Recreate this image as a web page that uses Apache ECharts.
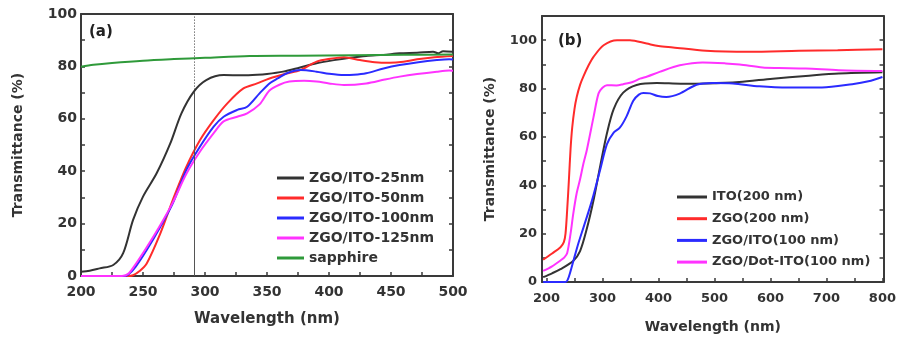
<!DOCTYPE html>
<html><head><meta charset="utf-8">
<script src="https://cdn.jsdelivr.net/npm/echarts@6/dist/echarts.min.js"></script>
<style>html,body{margin:0;padding:0;background:#fff}#c{width:899px;height:341px}</style>
</head><body><div id="c"></div><script>
// ---------- Panel (a) ----------
const a25_nm = [200, 207, 215, 226, 234, 242, 250, 261, 272, 281, 291, 301, 315, 330, 342, 350, 363, 376, 390, 404, 417, 430, 444, 457, 471, 484, 488, 492, 500];
const a25_T  = [1.6, 2.0, 2.9, 4.2, 8.7, 21.4, 30.3, 39.2, 50.6, 62.1, 70.4, 74.8, 76.7, 76.6, 76.8, 77.1, 78.0, 79.5, 81.2, 82.4, 83.3, 84.0, 84.4, 85.0, 85.2, 85.6, 85.0, 85.8, 85.6];
const a50_nm = [200, 225, 238, 242, 247, 253, 264, 274, 285, 296, 307, 318, 331, 342, 352, 365, 377, 390, 401, 412, 425, 437, 449, 460, 471, 485, 500];
const a50_T  = [0, 0, 0, 0.3, 1.8, 4.8, 16.3, 29.0, 41.7, 51.9, 59.5, 65.9, 71.6, 73.5, 75.4, 77.2, 78.6, 81.8, 82.9, 83.5, 82.4, 81.6, 81.4, 81.8, 82.7, 83.5, 84.0];
const a100_nm = [200, 225, 234, 238, 244, 253, 264, 274, 285, 296, 307, 315, 326, 334, 344, 352, 359, 366, 377, 390, 400, 412, 420, 430, 444, 457, 472, 487, 497, 500];
const a100_T  = [0, 0, 0, 0.5, 3.5, 9.9, 18.8, 27.7, 40.5, 49.4, 57.0, 60.8, 63.4, 64.6, 69.7, 73.5, 75.5, 77.4, 78.6, 78.0, 77.2, 76.7, 76.8, 77.4, 79.2, 80.5, 81.6, 82.4, 82.7, 82.6];
const a125_nm = [200, 225, 233, 238, 243, 253, 264, 274, 285, 296, 307, 315, 326, 334, 344, 352, 360, 368, 380, 390, 400, 412, 430, 445, 457, 471, 487, 497, 500];
const a125_T  = [0, 0, 0, 0.8, 3.8, 11.0, 19.5, 28.0, 39.0, 47.5, 54.5, 59.0, 60.8, 62.1, 65.5, 70.8, 73.0, 74.2, 74.5, 74.2, 73.5, 72.9, 73.5, 75.0, 76.1, 77.1, 78.0, 78.4, 78.3];
const sap_nm = [200, 210, 225, 250, 275, 300, 336, 375, 420, 460, 500];
const sap_T  = [79.9, 80.6, 81.3, 82.2, 82.8, 83.3, 84.0, 84.1, 84.3, 84.4, 84.5];
const namesA = ['ZGO/ITO-25nm', 'ZGO/ITO-50nm', 'ZGO/ITO-100nm', 'ZGO/ITO-125nm', 'sapphire'];
const cutoffA = 291;
const xLabelsA = [200, 250, 300, 350, 400, 450, 500];
const xTicksA = [200, 225, 250, 275, 300, 325, 350, 375, 400, 425, 450, 475, 500];
const yLabelsA = [0, 20, 40, 60, 80, 100];
const yTicksA = [0, 10, 20, 30, 40, 50, 60, 70, 80, 90, 100];

// ---------- Panel (b) ----------
const bIto_nm = [194, 210, 225, 248, 260, 272, 284, 296, 308, 320, 337, 361, 397, 440, 485, 544, 604, 663, 722, 800];
const bIto_T  = [2.0, 3.6, 5.3, 8.8, 12.8, 22.0, 33.8, 48.0, 61.5, 71.5, 78.3, 81.5, 82.3, 82.0, 82.1, 82.7, 84.1, 85.2, 86.2, 86.7];
const bZgo_nm = [194, 210, 225, 231, 234, 237, 240, 243, 246, 250, 254, 260, 266, 275, 284, 302, 326, 349, 379, 400, 426, 485, 562, 651, 720, 800];
const bZgo_T  = [9.2, 11.8, 14.4, 16.5, 20.0, 30.0, 42.0, 55.0, 64.0, 71.5, 76.5, 81.5, 85.0, 89.5, 93.1, 97.9, 100.0, 100.0, 98.6, 97.6, 97.0, 95.6, 95.2, 95.6, 95.8, 96.3];
const bZi_nm = [194, 210, 225, 234, 238, 243, 249, 257, 266, 275, 284, 296, 308, 320, 331, 343, 355, 365, 373, 385, 399, 414, 438, 468, 497, 533, 580, 633, 692, 746, 775, 800];
const bZi_T  = [0, 0, 0, 0, 1.0, 4.5, 9.5, 16.0, 22.5, 29.0, 36.0, 46.5, 57.0, 61.8, 63.8, 68.5, 75.0, 77.5, 78.2, 78.0, 76.9, 76.5, 77.9, 81.6, 82.3, 82.1, 80.9, 80.4, 80.4, 81.8, 83.0, 84.8];
const bDot_nm = [194, 210, 225, 232, 237, 243, 248, 254, 260, 266, 272, 284, 293, 300, 308, 325, 337, 355, 367, 380, 402, 438, 479, 520, 545, 586, 615, 663, 722, 800];
const bDot_T  = [4.6, 6.5, 8.9, 10.2, 12.0, 20.0, 28.5, 36.8, 42.5, 49.0, 54.5, 68.2, 78.0, 80.3, 81.4, 81.3, 81.8, 82.8, 84.1, 85.0, 86.9, 89.6, 90.8, 90.4, 89.9, 88.7, 88.5, 88.3, 87.6, 87.3];
const namesB = ['ITO(200 nm)', 'ZGO(200 nm)', 'ZGO/ITO(100 nm)', 'ZGO/Dot-ITO(100 nm)'];
const xLabelsB = [200, 300, 400, 500, 600, 700, 800];
const xTicksB = [200, 250, 300, 350, 400, 450, 500, 550, 600, 650, 700, 750, 800];
const yLabelsB = [0, 20, 40, 60, 80, 100];
const yTicksB = [0, 10, 20, 30, 40, 50, 60, 70, 80, 90, 100];

const zip = (xs, ys) => xs.map((x, i) => [x, ys[i]]);
const FF = 'DejaVu Sans';
const AX = '#3a3a3a';
const C = {black: '#333333', red: '#ff2b2b', blue: '#2b2bff', mag: '#ff33ff', green: '#2f9a3a'};

function xAx(grid, min, max, labels, ticks, fs, margin, nameSize, nameGap) {
  return [{
    gridIndex: grid, type: 'value', min, max, position: 'bottom',
    axisLine: {show: true, onZero: false, lineStyle: {color: AX, width: 2}},
    axisTick: {show: true, inside: true, length: 4, customValues: ticks, lineStyle: {color: AX, width: 1.5}},
    axisLabel: {customValues: labels, fontSize: fs, fontWeight: 'bold', fontFamily: FF, color: '#333', margin},
    splitLine: {show: false},
    name: 'Wavelength (nm)', nameLocation: 'middle', nameGap,
    nameTextStyle: {fontSize: nameSize, fontWeight: 'bold', fontFamily: FF, color: '#333'}
  }, {
    gridIndex: grid, type: 'value', min, max, position: 'top',
    axisLine: {show: true, onZero: false, lineStyle: {color: AX, width: 2}},
    axisTick: {show: false}, axisLabel: {show: false}, splitLine: {show: false}
  }];
}
function yAx(grid, min, max, labels, ticks, fs, margin, nameGap) {
  return [{
    gridIndex: grid, type: 'value', min, max, position: 'left',
    axisLine: {show: true, onZero: false, lineStyle: {color: AX, width: 2}},
    axisTick: {show: true, inside: true, length: 4, customValues: ticks, lineStyle: {color: AX, width: 1.5}},
    axisLabel: {customValues: labels, fontSize: fs, fontWeight: 'bold', fontFamily: FF, color: '#333', margin},
    splitLine: {show: false},
    name: 'Transmittance (%)', nameLocation: 'middle', nameGap,
    nameTextStyle: {fontSize: 14, fontWeight: 'bold', fontFamily: FF, color: '#333'}
  }, {
    gridIndex: grid, type: 'value', min, max, position: 'right',
    axisLine: {show: true, onZero: false, lineStyle: {color: AX, width: 2}},
    axisTick: {show: true, inside: true, length: 4, customValues: ticks, lineStyle: {color: AX, width: 1.5}},
    axisLabel: {show: false}, splitLine: {show: false}
  }];
}
function line(name, xi, yi, data, color, extra) {
  return Object.assign({
    name, type: 'line', xAxisIndex: xi, yAxisIndex: yi, data,
    showSymbol: false, symbol: 'none', smooth: 0.3,
    lineStyle: {color, width: 2}, itemStyle: {color}, z: 3
  }, extra || {});
}

const option = {
  animation: false,
  backgroundColor: '#fff',
  title: [
    {text: '(a)', left: 89, top: 25, padding: 0, textStyle: {fontSize: 15, fontWeight: 'bold', fontFamily: FF, color: '#222'}},
    {text: '(b)', left: 558, top: 34, padding: 0, textStyle: {fontSize: 15, fontWeight: 'bold', fontFamily: FF, color: '#222'}}
  ],
  grid: [
    {left: 81, top: 14, width: 372, height: 262},
    {left: 542, top: 16, width: 343, height: 266}
  ],
  xAxis: [
    ...xAx(0, 200, 500, xLabelsA, xTicksA, 14, 9, 15, 36),
    ...xAx(1, 192, 802, xLabelsB, xTicksB, 13, 10, 14, 38)
  ],
  yAxis: [
    ...yAx(0, 0, 100, yLabelsA, yTicksA, 14, 4, 56),
    ...yAx(1, 0, 110, yLabelsB, yTicksB, 13, 5, 45)
  ],
  legend: [
    {data: namesA, orient: 'vertical', left: 277, top: 170, itemWidth: 27, itemHeight: 3, icon: 'rect', itemGap: 4,
     padding: 0, textStyle: {fontSize: 14, fontWeight: 'bold', fontFamily: FF, color: '#333', lineHeight: 16}},
    {data: namesB, orient: 'vertical', left: 677, top: 189, itemWidth: 30, itemHeight: 3, icon: 'rect', itemGap: 5.7,
     padding: 0, textStyle: {fontSize: 13, fontWeight: 'bold', fontFamily: FF, color: '#333', lineHeight: 16}}
  ],
  series: [
    line(namesA[0], 0, 0, zip(a25_nm, a25_T), C.black, {
      markLine: {silent: true, symbol: ['none', 'none'], label: {show: false},
        lineStyle: {color: '#555', width: 1, type: 'solid'},
        data: [
          [{coord: [cutoffA, 0]}, {coord: [cutoffA, 70]}],
          [{coord: [cutoffA, 70], lineStyle: {type: [1, 2], color: '#333', width: 1}}, {coord: [cutoffA, 100]}]
        ]}
    }),
    line(namesA[1], 0, 0, zip(a50_nm, a50_T), C.red),
    line(namesA[2], 0, 0, zip(a100_nm, a100_T), C.blue),
    line(namesA[3], 0, 0, zip(a125_nm, a125_T), C.mag),
    line(namesA[4], 0, 0, zip(sap_nm, sap_T), C.green),
    line(namesB[0], 2, 2, zip(bIto_nm, bIto_T), C.black),
    line(namesB[1], 2, 2, zip(bZgo_nm, bZgo_T), C.red),
    line(namesB[2], 2, 2, zip(bZi_nm, bZi_T), C.blue),
    line(namesB[3], 2, 2, zip(bDot_nm, bDot_T), C.mag)
  ]
};
const chart = echarts.init(document.getElementById('c'), null, {renderer: 'canvas'});
chart.setOption(option);
</script></body></html>
